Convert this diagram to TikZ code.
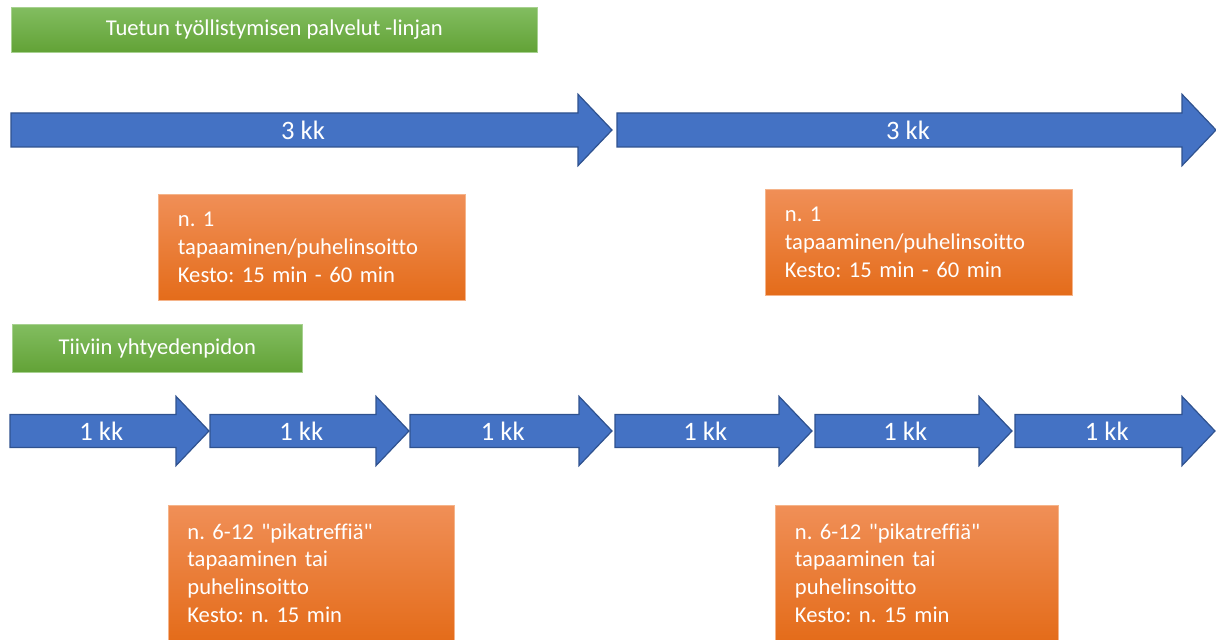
\documentclass[tikz,border=0pt]{standalone}
\usepackage{fontspec}
\setmainfont{Carlito}[Ligatures=NoCommon]
\usepackage{tikz}
\usetikzlibrary{positioning}
\frenchspacing
\definecolor{arrowblue}{HTML}{4472C4}
\definecolor{arrowline}{HTML}{2F528F}
\definecolor{greentop}{HTML}{82BD60}
\definecolor{greenbot}{HTML}{62A236}
\definecolor{orangetop}{HTML}{F08F57}
\definecolor{orangemid}{HTML}{F47C2C}
\definecolor{orangebot}{HTML}{E46C1A}
\definecolor{orangeline}{HTML}{F5B48A}
\tikzset{
  phase/.style={rectangle, top color=greentop, bottom color=greenbot, draw=greentop!70!white, line width=0.4pt, text=white, anchor=north west, inner sep=0pt, font=\fontsize{11.3}{13.8}\selectfont},
  contact/.style={rectangle, top color=orangetop, middle color=orangemid, bottom color=orangebot, draw=orangeline, line width=0.4pt, text=white, align=left, anchor=north west, inner xsep=9.5pt, inner ysep=0pt, font=\fontsize{11.3}{13.8}\selectfont},
  kkshape/.style={fill=arrowblue, draw=arrowline, line width=0.6pt, line join=miter},
  kklabel/.style={text=white, inner sep=0pt, font=\fontsize{13.3}{16}\selectfont}
}
% name, start, tip, middle, half shaft, label
\newcommand{\kkarrow}[6]{%
  \draw[kkshape] (#2,#4-#5) -- (#3-2*#5,#4-#5) -- (#3-2*#5,#4-2.1*#5) -- (#3,#4)
    -- (#3-2*#5,#4+2.1*#5) -- (#3-2*#5,#4+#5) -- (#2,#4+#5) -- cycle;
  \node[kklabel] (#1) at ({(#2+#3-#5)/2},#4) {#6};
}

\begin{document}
\begin{tikzpicture}[x=0.5pt, y=-0.5pt]
  \useasboundingbox (0,0) rectangle (1216,640);

  \node[phase, minimum width=263pt, minimum height=22.5pt] (tuettu) at (11,7) {Tuetun työllistymisen palvelut -linjan};
  \kkarrow{kk3a}{11}{612}{130}{17}{3 kk}
  \kkarrow{kk3b}{617}{1216}{130}{17}{3 kk}
  \node[contact, minimum width=153.5pt, text width=134pt, minimum height=53pt] (tapa1) at (158,194) {n. 1\\tapaaminen/puhelinsoitto\\Kesto: 15 min - 60 min};
  \node[contact, minimum width=153.5pt, text width=134pt, minimum height=53pt] (tapa2) at (765,189) {n. 1\\tapaaminen/puhelinsoitto\\Kesto: 15 min - 60 min};

  \node[phase, minimum width=145pt, minimum height=24pt] (tiivis) at (12,324) {Tiiviin yhtyedenpidon};
  \foreach \i/\xa/\xb in {1/10/209, 2/210/409, 3/410/612, 4/615/812, 5/815/1012, 6/1015/1215}
    \kkarrow{kk1\i}{\xa}{\xb}{431}{16.5}{1 kk};
  \node[contact, minimum width=143pt, text width=124pt, minimum height=67.5pt] (pika1) at (168,505) {n. 6-12 \textquotedbl pikatreffiä\textquotedbl\\tapaaminen tai\\puhelinsoitto\\Kesto: n. 15 min};
  \node[contact, minimum width=141.5pt, text width=122pt, minimum height=67.5pt] (pika2) at (775,505) {n. 6-12 \textquotedbl pikatreffiä\textquotedbl\\tapaaminen tai\\puhelinsoitto\\Kesto: n. 15 min};

\end{tikzpicture}
\end{document}
